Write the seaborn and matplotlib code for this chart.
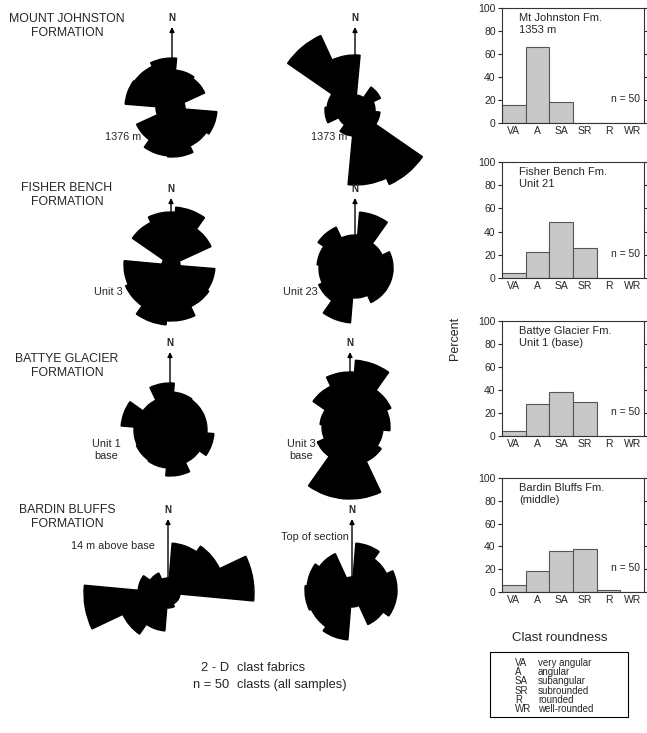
import numpy as np
import pandas as pd
import matplotlib
matplotlib.use("Agg")
import matplotlib.pyplot as plt
from matplotlib.patches import Rectangle
import seaborn as sns

# ---------------- data ----------------
# rose diagrams: 12 sectors of 30 deg, compass bearings of sector centres
sector_centres = [20, 50, 80, 110, 140, 170, 200, 230, 260, 290, 320, 350]
rose_1376 = [38, 36, 13, 45, 42, 49, 48, 39, 16, 47, 46, 50]
rose_1373 = [15, 28, 20, 25, 82, 75, 26, 18, 30, 28, 82, 55]
rose_unit3 = [58, 44, 9, 44, 46, 56, 60, 50, 47, 9, 47, 53]
rose_unit23 = [56, 30, 38, 38, 38, 30, 55, 40, 36, 38, 45, 33]
rose_unit1_base = [38, 37, 37, 44, 36, 46, 38, 37, 36, 49, 33, 47]
rose_unit3_base = [67, 45, 40, 33, 38, 72, 72, 36, 28, 30, 45, 55]
rose_14m = [50, 57, 86, 12, 12, 15, 38, 50, 84, 30, 22, 15]
rose_top = [47, 38, 45, 45, 38, 17, 50, 45, 47, 45, 40, 13]

rose_labels = ["1376 m", "1373 m", "Unit 3", "Unit 23", "Unit 1\nbase",
               "Unit 3\nbase", "14 m above base", "Top of section"]
formation_labels = ["MOUNT JOHNSTON\nFORMATION", "FISHER BENCH\nFORMATION",
                    "BATTYE GLACIER\nFORMATION", "BARDIN BLUFFS\nFORMATION"]

# clast roundness histograms (percent)
roundness_classes = ["VA", "A", "SA", "SR", "R", "WR"]
roundness_names = ["very angular", "angular", "subangular", "subrounded",
                   "rounded", "well-rounded"]
pct_mt_johnston = [16, 66, 18, 0, 0, 0]
pct_fisher_bench = [4, 22, 48, 26, 0, 0]
pct_battye = [4, 28, 38, 30, 0, 0]
pct_bardin = [6, 18, 36, 38, 2, 0]
hist_titles = ["Mt Johnston Fm.\n1353 m", "Fisher Bench Fm.\nUnit 21",
               "Battye Glacier Fm.\nUnit 1 (base)", "Bardin Bluffs Fm.\n(middle)"]
y_ticks = [0, 20, 40, 60, 80, 100]

# ---------------- style ----------------
sns.set_style("white")
plt.rcParams["font.family"] = ["Liberation Sans", "DejaVu Sans"]

W, H = 647, 733
fig = plt.figure(figsize=(W / 100, H / 100), dpi=100)


def px_axes(left, top, right, bottom, **kw):
    return fig.add_axes([left / W, 1 - bottom / H, (right - left) / W, (bottom - top) / H], **kw)


def ftext(x, y, s, **kw):
    fig.text(x / W, 1 - y / H, s, **kw)


# ---------------- rose diagrams ----------------
roses = [rose_1376, rose_1373, rose_unit3, rose_unit23,
         rose_unit1_base, rose_unit3_base, rose_14m, rose_top]
centres = [(172, 108), (355, 110), (171, 265), (355, 268),
           (170, 430), (350, 427), (168, 593), (352, 590)]
arrow_tips = [81, 83, 67, 70, 78, 75, 74, 71]
label_pos = [(141, 137, "right"), (347, 137, "right"), (123, 292, "right"),
             (318, 292, "right"), (106, 450, "center"), (301, 450, "center"),
             (113, 546, "center"), (315, 537, "center")]
R = 100
theta = np.deg2rad(sector_centres)
for vals, (cx, cy), tip, (lx, ly, ha), lab in zip(roses, centres, arrow_tips, label_pos, rose_labels):
    ax = px_axes(cx - R, cy - R, cx + R, cy + R, projection="polar")
    ax.set_theta_zero_location("N")
    ax.set_theta_direction(-1)
    ax.bar(theta, vals, width=np.deg2rad(30.6), bottom=0, color="black",
           edgecolor="black", linewidth=1.0, align="center", zorder=2)
    ax.set_ylim(0, R)
    ax.set_axis_off()
    ax.annotate("", xy=(0, tip), xytext=(0, 0), annotation_clip=False,
                arrowprops=dict(arrowstyle="-|>", color="black", lw=1.0,
                                mutation_scale=7, shrinkA=0, shrinkB=0),
                zorder=1)
    ax.text(0, tip + 9, "N", ha="center", va="center", fontsize=7,
            fontweight="bold")
    ftext(lx, ly, lab, ha=ha, va="center", fontsize=7.8, linespacing=1.2)

for i, lab in enumerate(formation_labels):
    y = [26, 195, 366, 517][i]
    ftext(67, y, lab, ha="center", va="center", fontsize=8.8, linespacing=1.3)

ftext(229, 668, "2 - D", ha="right", va="center", fontsize=9.3)
ftext(237, 668, "clast fabrics", ha="left", va="center", fontsize=9.3)
ftext(229, 685, "n = 50", ha="right", va="center", fontsize=9.3)
ftext(237, 685, "clasts (all samples)", ha="left", va="center", fontsize=9.3)

# ---------------- histograms ----------------
hist_data = [pct_mt_johnston, pct_fisher_bench, pct_battye, pct_bardin]
tops = [8, 162, 321, 478]
bottoms = [123, 278, 436, 592]
for vals, title, t, b in zip(hist_data, hist_titles, tops, bottoms):
    ax = px_axes(502, t, 644, b)
    df = pd.DataFrame({"cls": roundness_classes, "pct": vals})
    sns.barplot(data=df, x="cls", y="pct", order=roundness_classes, ax=ax,
                color="#c8c8c8", edgecolor="#555555", linewidth=0.8,
                width=1.0, saturation=1)
    ax.set_xlim(-0.5, 5.5)
    ax.set_ylim(0, 100)
    ax.set_yticks(y_ticks)
    ax.set_xlabel("")
    ax.set_ylabel("")
    for s in ax.spines.values():
        s.set_visible(True)
        s.set_linewidth(0.8)
        s.set_color("#333333")
    ax.tick_params(axis="y", which="both", left=True, right=True, labelright=False,
                   direction="out", length=3, width=0.8, labelsize=7.5, pad=1.5)
    ax.tick_params(axis="x", length=0, labelsize=7.5, pad=2)
    ax.text(0.12, 0.86, title, transform=ax.transAxes, ha="left", va="center",
            fontsize=8, linespacing=1.3)
    ax.text(0.97, 0.21, "n = 50", transform=ax.transAxes, ha="right",
            va="center", fontsize=7.5)

ftext(455, 338, "Percent", rotation=90, ha="center", va="center", fontsize=9)

# ---------------- roundness key ----------------
ftext(560, 638, "Clast roundness", ha="center", va="center", fontsize=9.5)
fig.patches.append(Rectangle((490 / W, 1 - 717 / H), 138 / W, 65 / H,
                             transform=fig.transFigure, fill=False,
                             edgecolor="black", linewidth=0.8))
for k, (c, n) in enumerate(zip(roundness_classes, roundness_names)):
    y = 666 + k * 9.2
    ftext(515, y, c, ha="left", va="baseline", fontsize=7)
    ftext(538, y, n, ha="left", va="baseline", fontsize=7)

fig.savefig("out.png", dpi=100)
